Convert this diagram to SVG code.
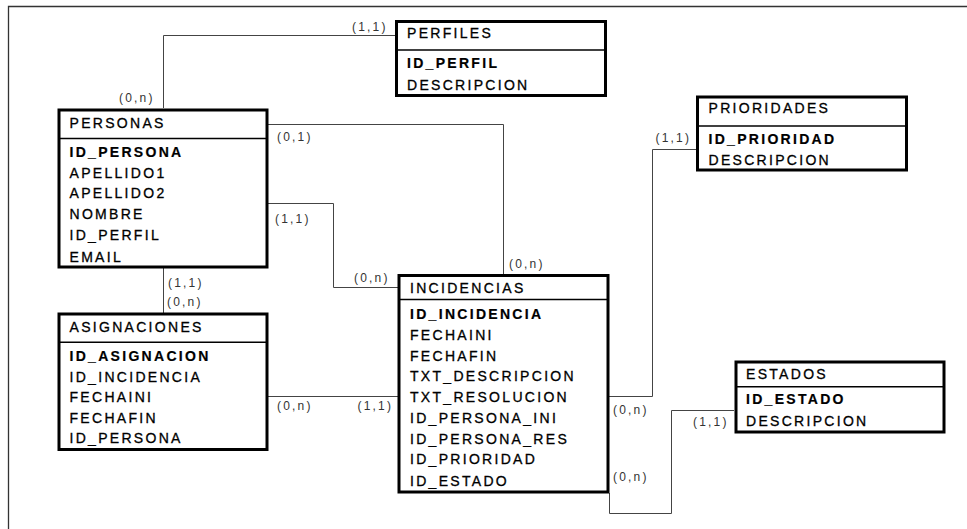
<svg xmlns="http://www.w3.org/2000/svg" width="967" height="529" viewBox="0 0 967 529">
<style>
.frame{fill:none;stroke:#333;stroke-width:1.3}
.box{fill:#fff;stroke:#000;stroke-width:3}
.div{stroke:#000;stroke-width:1.5}
.conn{fill:none;stroke:#444;stroke-width:1}
.t{font-family:"Liberation Sans",Arial,sans-serif;font-size:14px;letter-spacing:2.3px;fill:#000;stroke:#000;stroke-width:0.3}
.b{font-weight:bold;stroke-width:0.2}
.lbl{font-family:"Liberation Sans",Arial,sans-serif;font-size:12px;letter-spacing:2.2px;fill:#333}
</style>
<rect width="967" height="529" fill="#fff"/>
<path class="frame" d="M8.5 529 V6.5 H967"/>
<g id="connectors">
<path class="conn" d="M163.5 108 V35.5 H395"/>
<path class="conn" d="M268 124.5 H503.5 V274"/>
<path class="conn" d="M268 203.5 H333.5 V287.5 H398"/>
<path class="conn" d="M163.5 268 V313"/>
<path class="conn" d="M268 396.5 H398"/>
<path class="conn" d="M609 396.5 H652.5 V149.5 H696"/>
<path class="conn" d="M609.5 493 V513.5 H671.5 V410.5 H734"/>
<text class="lbl" x="352" y="30.5">(1,1)</text>
<text class="lbl" x="119" y="101.5">(0,n)</text>
<text class="lbl" x="277" y="141">(0,1)</text>
<text class="lbl" x="275" y="223">(1,1)</text>
<text class="lbl" x="168" y="286.5">(1,1)</text>
<text class="lbl" x="167" y="306">(0,n)</text>
<text class="lbl" x="509" y="267.5">(0,n)</text>
<text class="lbl" x="354" y="281.5">(0,n)</text>
<text class="lbl" x="277" y="410">(0,n)</text>
<text class="lbl" x="357.5" y="410">(1,1)</text>
<text class="lbl" x="655.5" y="141.5">(1,1)</text>
<text class="lbl" x="613" y="413.5">(0,n)</text>
<text class="lbl" x="613" y="481">(0,n)</text>
<text class="lbl" x="693" y="426">(1,1)</text>
</g>
<g id="perfiles">
<rect class="box" x="396.5" y="21.5" width="209" height="74"/>
<line class="div" x1="396.5" y1="50" x2="605.5" y2="50"/>
<text class="t" x="407" y="38.3">PERFILES</text>
<text class="t b" x="407" y="68.3">ID_PERFIL</text>
<text class="t" x="407" y="90">DESCRIPCION</text>
</g>
<g id="personas">
<rect class="box" x="59" y="110" width="208" height="157"/>
<line class="div" x1="59" y1="138.5" x2="267" y2="138.5"/>
<text class="t" x="69.5" y="127.7">PERSONAS</text>
<text class="t b" x="69.5" y="156.7">ID_PERSONA</text>
<text class="t" x="69.5" y="177.5">APELLIDO1</text>
<text class="t" x="69.5" y="198.3">APELLIDO2</text>
<text class="t" x="69.5" y="219.3">NOMBRE</text>
<text class="t" x="69.5" y="240.3">ID_PERFIL</text>
<text class="t" x="69.5" y="261.5">EMAIL</text>
</g>
<g id="prioridades">
<rect class="box" x="697.5" y="97" width="209" height="73"/>
<line class="div" x1="697.5" y1="126" x2="906.5" y2="126"/>
<text class="t" x="708.5" y="113.3">PRIORIDADES</text>
<text class="t b" x="708.5" y="144.3">ID_PRIORIDAD</text>
<text class="t" x="708.5" y="165">DESCRIPCION</text>
</g>
<g id="asignaciones">
<rect class="box" x="59" y="314" width="208" height="135.5"/>
<line class="div" x1="59" y1="342.3" x2="267" y2="342.3"/>
<text class="t" x="69.5" y="331.7">ASIGNACIONES</text>
<text class="t b" x="69.5" y="360.7">ID_ASIGNACION</text>
<text class="t" x="69.5" y="381.7">ID_INCIDENCIA</text>
<text class="t" x="69.5" y="402.3">FECHAINI</text>
<text class="t" x="69.5" y="422.7">FECHAFIN</text>
<text class="t" x="69.5" y="443.3">ID_PERSONA</text>
</g>
<g id="incidencias">
<rect class="box" x="399" y="275.5" width="209" height="216.5"/>
<line class="div" x1="399" y1="299.5" x2="608" y2="299.5"/>
<text class="t" x="410" y="292.7">INCIDENCIAS</text>
<text class="t b" x="410" y="319">ID_INCIDENCIA</text>
<text class="t" x="410" y="339.7">FECHAINI</text>
<text class="t" x="410" y="360.7">FECHAFIN</text>
<text class="t" x="410" y="380.7">TXT_DESCRIPCION</text>
<text class="t" x="410" y="402">TXT_RESOLUCION</text>
<text class="t" x="410" y="422.7">ID_PERSONA_INI</text>
<text class="t" x="410" y="444">ID_PERSONA_RES</text>
<text class="t" x="410" y="464.3">ID_PRIORIDAD</text>
<text class="t" x="410" y="485.5">ID_ESTADO</text>
</g>
<g id="estados">
<rect class="box" x="736" y="362" width="208" height="70"/>
<line class="div" x1="736" y1="386.7" x2="944" y2="386.7"/>
<text class="t" x="746" y="379.3">ESTADOS</text>
<text class="t b" x="746" y="404.3">ID_ESTADO</text>
<text class="t" x="746" y="426">DESCRIPCION</text>
</g>
</svg>
